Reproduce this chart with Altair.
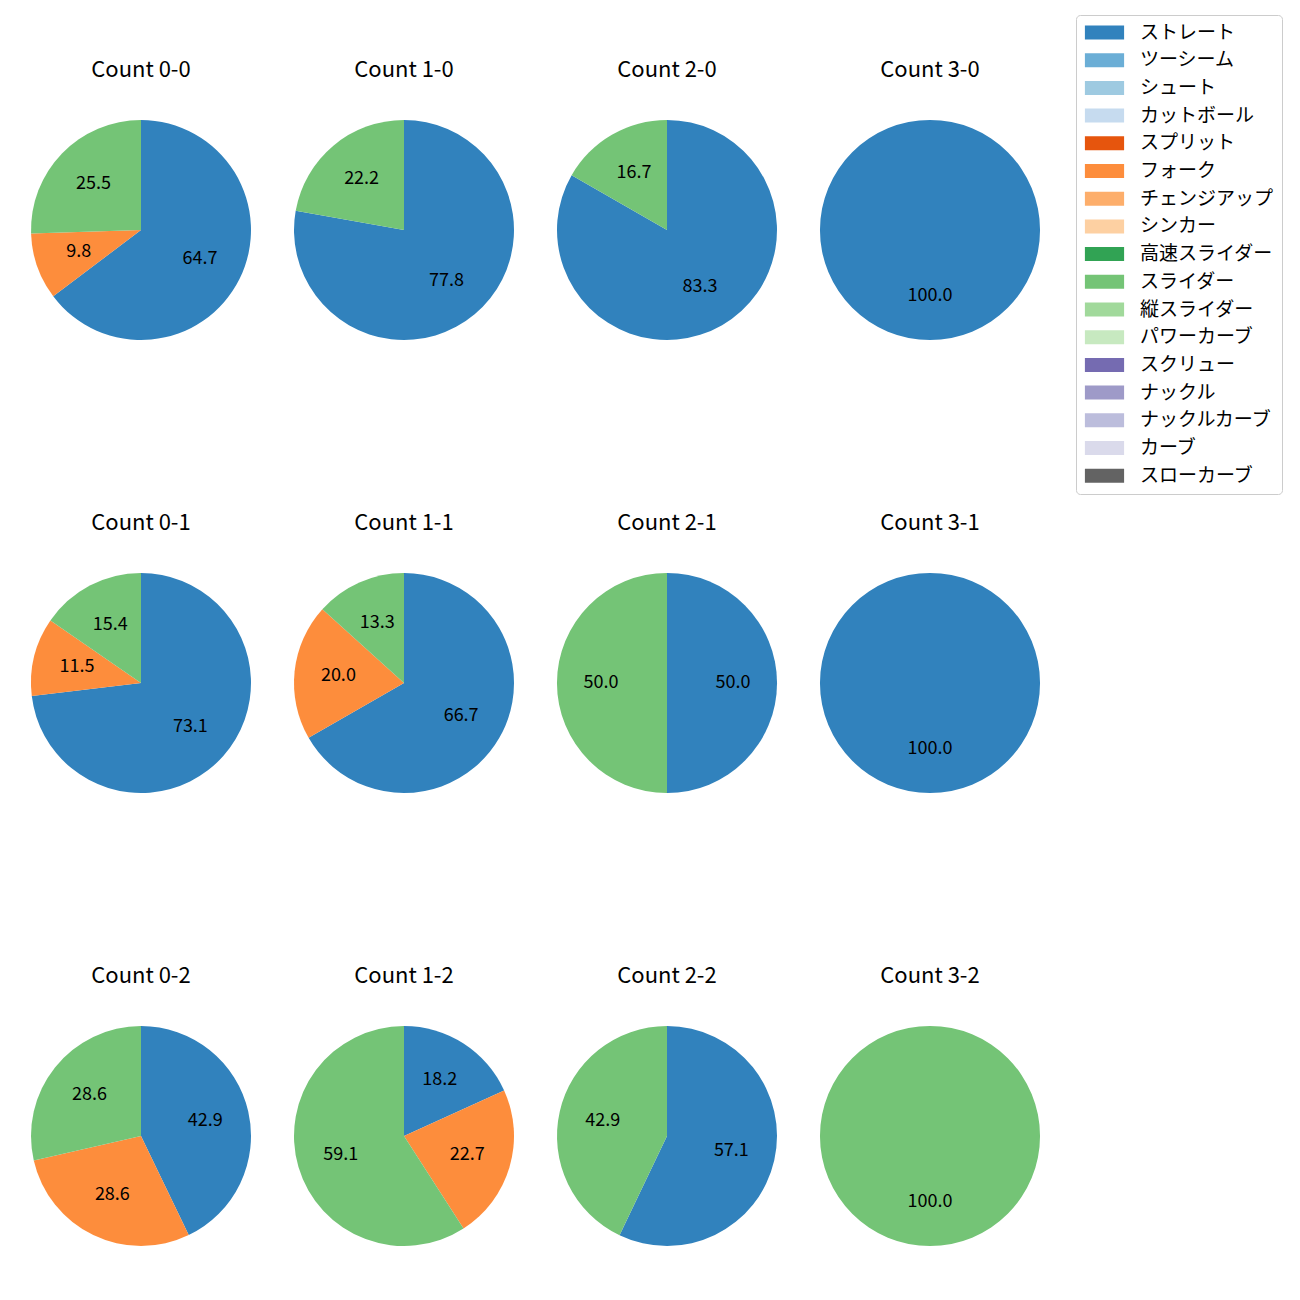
import altair as alt
import pandas as pd

pitch_types = ["ストレート", "ツーシーム", "シュート", "カットボール", "スプリット", "フォーク",
               "チェンジアップ", "シンカー", "高速スライダー", "スライダー", "縦スライダー",
               "パワーカーブ", "スクリュー", "ナックル", "ナックルカーブ", "カーブ", "スローカーブ"]
colors = ["#3182bd", "#6baed6", "#9ecae1", "#c6dbef", "#e6550d", "#fd8d3c", "#fdae6b", "#fdd0a2",
          "#31a354", "#74c476", "#a1d99b", "#c7e9c0", "#756bb1", "#9e9ac8", "#bcbddc", "#dadaeb",
          "#636363"]

counts = ["0-0", "1-0", "2-0", "3-0", "0-1", "1-1", "2-1", "3-1", "0-2", "1-2", "2-2", "3-2"]
straight = [64.7, 77.8, 83.3, 100.0, 73.1, 66.7, 50.0, 100.0, 42.9, 18.2, 57.1, 0.0]
fork = [9.8, 0.0, 0.0, 0.0, 11.5, 20.0, 0.0, 0.0, 28.6, 22.7, 0.0, 0.0]
slider = [25.5, 22.2, 16.7, 0.0, 15.4, 13.3, 50.0, 0.0, 28.6, 59.1, 42.9, 100.0]

rows = []
for i, c in enumerate(counts):
    for name, vals in (("ストレート", straight), ("フォーク", fork), ("スライダー", slider)):
        v = vals[i]
        if v > 0:
            rows.append({"count": "Count " + c, "pitch": name, "value": v,
                         "idx": pitch_types.index(name)})
df = pd.DataFrame(rows)

FONT = "Noto Sans CJK JP"

base = alt.Chart(df).encode(
    theta=alt.Theta("value:Q", stack=True),
    order=alt.Order("idx:Q"),
)

arcs = base.mark_arc(outerRadius=110, stroke=None).encode(
    color=alt.Color(
        "pitch:N",
        scale=alt.Scale(domain=pitch_types, range=colors),
        legend=alt.Legend(
            title=None,
            orient="none",
            legendX=1045,
            legendY=-105,
            symbolType="M-2.8,-1L2.8,-1L2.8,1L-2.8,1Z",
            symbolSize=196,
            symbolStrokeWidth=0,
            symbolOpacity=1,
            symbolOffset=11,
            labelOffset=26,
            labelFont=FONT,
            labelFontSize=19,
            labelColor="#000000",
            rowPadding=7.7,
            padding=8,
            strokeColor="#cccccc",
            cornerRadius=4,
            fillColor="white",
        ),
    )
)

texts = base.mark_text(radius=66, font=FONT, fontSize=18, color="black").encode(
    text=alt.Text("value:Q", format=".1f")
)

chart = alt.layer(arcs, texts).properties(width=220, height=220).facet(
    facet=alt.Facet(
        "count:N",
        sort=["Count " + c for c in counts],
        header=alt.Header(title=None, labelFont=FONT, labelFontSize=22,
                          labelColor="black", labelPadding=38),
    ),
    columns=4,
    spacing={"row": 172, "column": 43},
).configure_view(stroke=None).properties(
    padding={"left": 23, "top": 6, "right": 5, "bottom": 5}
)

chart.save("out.html", embed_options={"renderer": "svg", "actions": False})
